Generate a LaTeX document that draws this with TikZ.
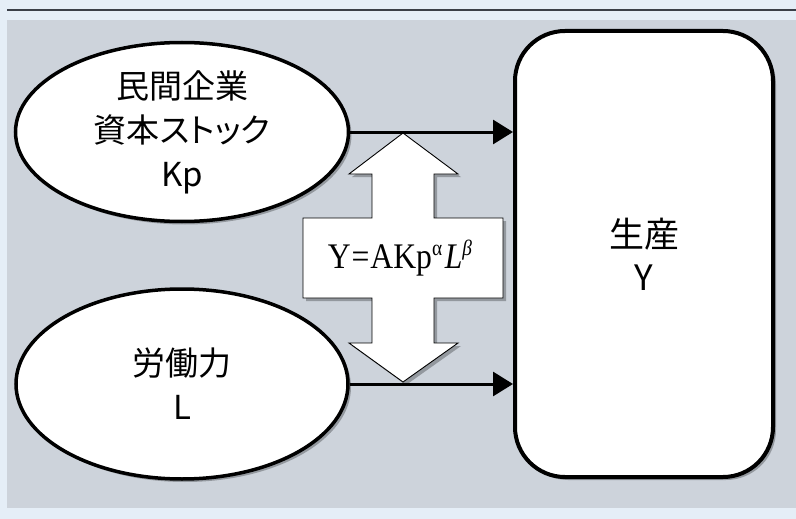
\documentclass[tikz,border=0pt]{standalone}
\usepackage{fontspec}
\usepackage{graphicx}
\setmainfont{Liberation Serif}
\newfontfamily\jp[RawFeature=+palt]{Noto Sans CJK JP}
\usetikzlibrary{shapes.geometric,arrows.meta,shadows}
\definecolor{outerbg}{HTML}{E5EEF7}
\definecolor{panelbg}{HTML}{CDD3DB}
\definecolor{rulecol}{HTML}{3A3F48}
\newcommand{\supx}[1]{\raisebox{13pt}{\fontsize{22pt}{22pt}\selectfont #1}}
\tikzset{
  shadowed/.style={drop shadow={shadow xshift=3pt,shadow yshift=-3pt,fill=black,opacity=0.28}},
  ellnode/.style={ellipse, draw=black, line width=3.5pt, fill=white, shadowed, inner sep=0pt, align=center,
    font=\jp\fontsize{33pt}{44pt}\selectfont},
  boxnode/.style={rectangle, rounded corners=50pt, draw=black, line width=4pt, fill=white, shadowed,
    align=center, font=\jp\fontsize{35pt}{43pt}\selectfont},
  conn/.style={line width=3pt, -{Triangle[length=20pt,width=24pt]}},
  dblarrow/.style={draw=black, line width=0.9pt, fill=white, shadowed},
}
\begin{document}
\begin{tikzpicture}[x=1pt,y=-1pt]
\useasboundingbox (0,0) rectangle (796,519);
\fill[outerbg] (0,0) rectangle (796,519);
\fill[panelbg] (7,20) rectangle (796,508);
\draw[rulecol, line width=1.5pt] (7,10) -- (796,10);

\node[ellnode, minimum width=333pt, minimum height=179pt] (kp) at (182,132) {民間企業\\資本ストック\\Kp};
\node[ellnode, minimum width=332pt, minimum height=190pt] (lab) at (182,384) {労働力\\L};
\node[boxnode, minimum width=258pt, minimum height=446pt] (prod) at (644,254) {生産\\Y};

\draw[dblarrow] (403,133) -- (458,174) -- (434,174) -- (434,218) -- (503,218) -- (503,298)
  -- (434,298) -- (434,343) -- (458,343) -- (403,382) -- (349,343) -- (372,343) -- (372,298)
  -- (303,298) -- (303,218) -- (372,218) -- (372,174) -- (349,174) -- cycle;
\node[font=\fontsize{36pt}{40pt}\selectfont, inner sep=0pt, anchor=base] (fml) at (400,268)
  {\scalebox{0.88}[1]{Y\kern1pt=\kern1ptAKp\supx{α}\kern3pt\textit{L}\supx{\textit{β}}}};

\draw[conn] (kp.east) -- (kp.east -| prod.west);
\draw[conn] (lab.east) -- (lab.east -| prod.west);
\end{tikzpicture}
\end{document}
